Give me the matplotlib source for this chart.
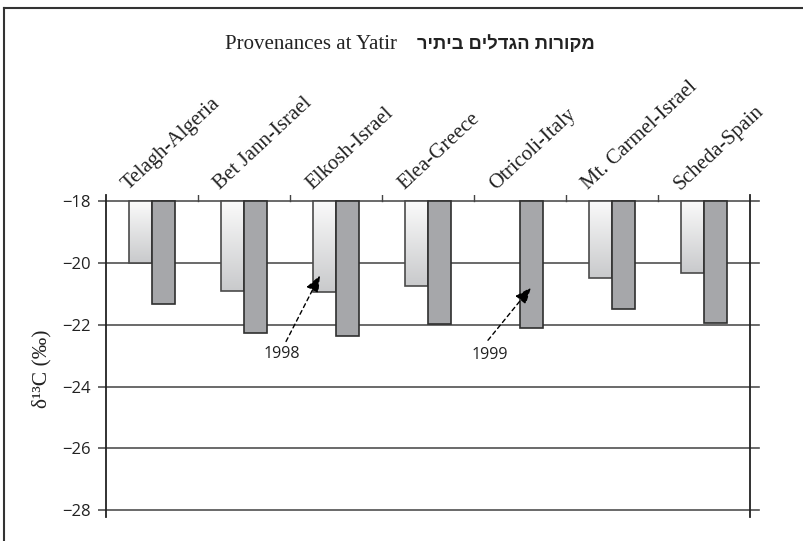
import numpy as np
import matplotlib
matplotlib.use("Agg")
import matplotlib.pyplot as plt
from matplotlib.lines import Line2D
import matplotlib.transforms as mtransforms
from matplotlib.colors import LinearSegmentedColormap

# Provenance sites and their carbon isotope values (per mil)
provenances = ["Telagh-Algeria", "Bet Jann-Israel", "Elkosh-Israel", "Elea-Greece",
               "Otricoli-Italy", "Mt. Carmel-Israel", "Scheda-Spain"]
d13c_1998 = [-20.0, -20.9, -20.95, -20.75, np.nan, -20.5, -20.33]
d13c_1999 = [-21.32, -22.25, -22.35, -21.98, -22.12, -21.5, -21.94]
y_ticks = [-28, -26, -24, -22, -20, -18]
baseline = -18

serif = ["Liberation Serif", "DejaVu Serif"]
sans = ["Open Sans", "DejaVu Sans"]

fig = plt.figure(figsize=(8.04, 5.41), dpi=100)
fig.patch.set_facecolor("white")
ax = fig.add_axes([106 / 804, 24 / 541, 644 / 804, 322 / 541])

n = len(provenances)
x = np.arange(n)
bw = 0.25

ax.set_xlim(-0.5, n - 0.5)
ax.set_ylim(-28.22, -17.8)

# horizontal grid lines, running slightly past the right frame line
gtrans = mtransforms.blended_transform_factory(ax.transAxes, ax.transData)
for yv in y_ticks:
    ax.plot([0, 1.014], [yv, yv], transform=gtrans, color="#505050", lw=1.2,
            clip_on=False, zorder=1)

# small separators above the top line between provenances
for b in np.arange(0.5, n - 0.5, 1.0):
    ax.plot([b, b], [baseline, -17.8], color="#444444", lw=1.0, zorder=1)

# 1998: light bars with a vertical gradient
grad = LinearSegmentedColormap.from_list("lightbar", ["#fafafa", "#c9cacc"])
v98 = np.array(d13c_1998)
bars98 = ax.bar(x - bw / 2, np.nan_to_num(v98 - baseline), width=bw, bottom=baseline,
                facecolor="none", edgecolor="#4a4a4a", linewidth=1.2, zorder=4)
for rect, val in zip(bars98, v98):
    if np.isnan(val):
        rect.set_visible(False)
        continue
    x0 = rect.get_x()
    img = ax.imshow(np.linspace(0, 1, 64).reshape(-1, 1), cmap=grad, aspect="auto",
                    extent=[x0, x0 + bw, val, baseline], origin="upper",
                    interpolation="bilinear", zorder=3)
    img.set_clip_path(rect)

# 1999: solid grey bars
v99 = np.array(d13c_1999)
ax.bar(x + bw / 2, v99 - baseline, width=bw, bottom=baseline,
       facecolor="#a6a7aa", edgecolor="#2f2f2f", linewidth=1.2, zorder=4)

ax.set_xlim(-0.5, n - 0.5)
ax.set_ylim(-28.22, -17.8)

# axes frame: only left and right vertical lines
for s in ["top", "bottom"]:
    ax.spines[s].set_visible(False)
for s in ["left", "right"]:
    ax.spines[s].set_color("#222222")
    ax.spines[s].set_linewidth(1.3)
    ax.spines[s].set_zorder(5)

ax.set_xticks([])
ax.set_yticks(y_ticks)
ax.set_yticklabels([f"\u2212{abs(t)}" for t in y_ticks], family=sans, fontsize=12,
                   color="#222222")
ax.tick_params(axis="y", direction="out", length=6, width=1.2, color="#505050", pad=5)

# provenance names, slanted above the plot
for xi, name in zip(x, provenances):
    ax.text(xi - 0.26, -17.64, name, rotation=43, rotation_mode="anchor",
            ha="left", va="baseline", family=serif, fontsize=15, color="#222222")

ax.set_ylabel("\u03b4\u00b9\u00b3C (\u2030)", family=serif, fontsize=15.5, color="#222222")
ax.yaxis.set_label_coords(-0.085, 0.46)

# year annotations
arrow = dict(arrowstyle="-|>,head_length=1.0,head_width=0.4", linestyle=(0, (3, 2.5)),
             color="black", lw=1.0, shrinkA=0, shrinkB=0)
ax.annotate("", xy=(1.826, -20.40), xytext=(1.457, -22.54), arrowprops=arrow, zorder=6)
ax.text(1.413, -22.96, "1998", ha="center", va="center", family=sans, fontsize=11.5,
        color="#222222", zorder=6)
ax.annotate("", xy=(4.12, -20.79), xytext=(3.652, -22.50), arrowprops=arrow, zorder=6)
ax.text(3.674, -22.99, "1999", ha="center", va="center", family=sans, fontsize=11.5,
        color="#222222", zorder=6)

# title: English and Hebrew parts
fig.text(397 / 804, (541 - 49) / 541, "Provenances at Yatir", ha="right", va="baseline",
         family=serif, fontsize=15, color="#222222")
hebrew = "מקורות הגדלים ביתיר"
fig.text(417 / 804, (541 - 49) / 541, hebrew[::-1], ha="left", va="baseline",
         family=["Liberation Sans", "DejaVu Sans"], fontsize=13.2, fontweight="bold",
         color="#222222")

# outer frame
fig.add_artist(Line2D([4 / 804, 4 / 804], [0, (541 - 8) / 541], transform=fig.transFigure,
                      color="#333333", lw=1.5))
fig.add_artist(Line2D([4 / 804, 1], [(541 - 8) / 541, (541 - 8) / 541],
                      transform=fig.transFigure, color="#333333", lw=1.5))

fig.savefig("out.png", dpi=100)
